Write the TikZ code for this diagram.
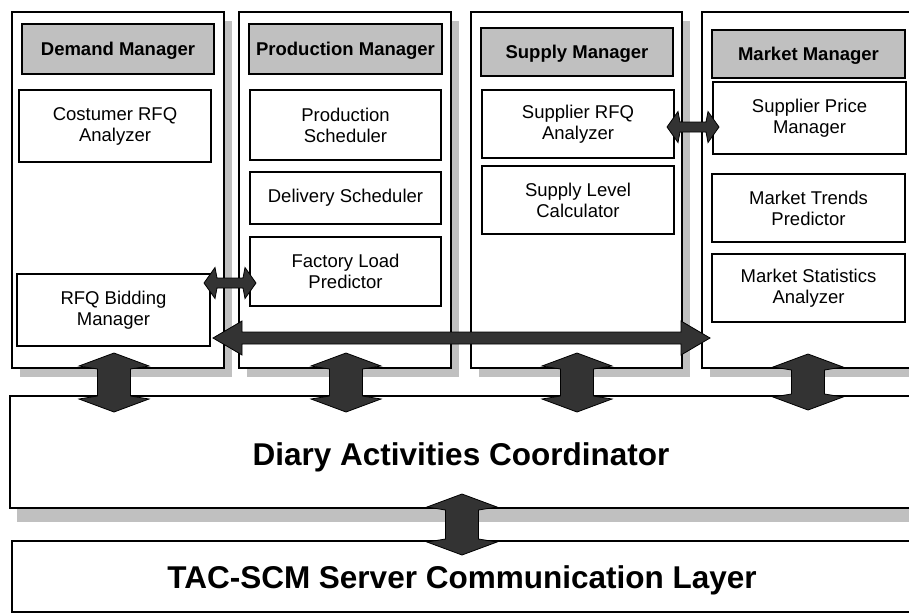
\documentclass[tikz,border=0pt]{standalone}
\usepackage{fontspec}
\setmainfont{Liberation Sans}
\usetikzlibrary{shadows}
\definecolor{sgray}{RGB}{192,192,192}
\definecolor{afill}{RGB}{51,51,51}
\begin{document}
\begin{tikzpicture}[x=1pt,y=-1pt,
  colbox/.style={draw=black, line width=1.1pt, fill=white, inner sep=0pt, outer sep=0pt, anchor=north west,
    drop shadow={shadow xshift=8pt, shadow yshift=-9pt, fill=sgray, opacity=1}},
  bigbox/.style={draw=black, line width=1.1pt, fill=white, inner sep=0pt, outer sep=0pt, anchor=north west},
  headbox/.style={draw=black, line width=1.4pt, fill=sgray, inner sep=0pt, outer sep=0pt, anchor=north west,
    text height=13.2pt, text depth=0pt, font=\fontsize{18.5}{21}\selectfont\bfseries},
  inbox/.style={draw=black, line width=1.3pt, fill=white, inner sep=0pt, outer sep=0pt, anchor=north west,
    align=center, font=\fontsize{18.5}{21}\selectfont},
  biglbl/.style={anchor=base, inner sep=0pt, font=\fontsize{31.5}{36}\selectfont\bfseries},
  arrowst/.style={fill=afill, draw=black, line width=0.8pt, line join=miter},
  pics/vdarr/.style={code={
    \filldraw[arrowst] (0,0) -- (35,13) -- (16.5,16) -- (16.5,#1-16) -- (35,#1-13) -- (0,#1)
      -- (-35,#1-13) -- (-16.5,#1-16) -- (-16.5,16) -- (-35,13) -- cycle;}},
  pics/hdarr/.style={code={
    \filldraw[arrowst] (0,0) -- (11,-15.5) -- (13,-5) -- (#1-13,-5) -- (#1-11,-15.5) -- (#1,0)
      -- (#1-11,15.5) -- (#1-13,5) -- (13,5) -- (11,15.5) -- cycle;}},
  pics/bigarr/.style={code={
    \filldraw[arrowst] (0,0) -- (29,-17) -- (29,-6) -- (#1-29,-6) -- (#1-29,-17) -- (#1,0)
      -- (#1-29,17) -- (#1-29,6) -- (29,6) -- (29,17) -- cycle;}}
]
\useasboundingbox (0,0) rectangle (909,614);
\fill[white] (0,0) rectangle (909,614);
\clip (0,0) rectangle (909,614);

% columns
\node[colbox, minimum width=212, minimum height=356] (col1) at (12,12) {};
\node[colbox, minimum width=212, minimum height=356] (col2) at (239,12) {};
\node[colbox, minimum width=211, minimum height=356] (col3) at (471,12) {};
\node[colbox, minimum width=213, minimum height=356] (col4) at (702,12) {};

% headers
\node[headbox, minimum width=192, minimum height=50] (hd1) at (22,24) {Demand Manager};
\node[headbox, minimum width=193, minimum height=50] (hd2) at (249,24) {Production Manager};
\node[headbox, minimum width=192, minimum height=48] (hd3) at (481,28) {Supply Manager};
\node[headbox, minimum width=193, minimum height=48] (hd4) at (712,30) {Market Manager};

% inner boxes
\node[inbox, minimum width=192, minimum height=72] (cra) at (19,90) {Costumer RFQ\\Analyzer};
\node[inbox, minimum width=193, minimum height=72] (rbm) at (17,274) {RFQ Bidding\\Manager};
\node[inbox, minimum width=191, minimum height=70] (ps) at (250,90) {Production\\Scheduler};
\node[inbox, minimum width=191, minimum height=52] (ds) at (250,172) {Delivery Scheduler};
\node[inbox, minimum width=191, minimum height=69] (flp) at (250,237) {Factory Load\\Predictor};
\node[inbox, minimum width=192, minimum height=68] (sra) at (482,90) {Supplier RFQ\\Analyzer};
\node[inbox, minimum width=192, minimum height=68] (slc) at (482,166) {Supply Level\\Calculator};
\node[inbox, minimum width=193, minimum height=72] (spm) at (713,82) {Supplier Price\\Manager};
\node[inbox, minimum width=193, minimum height=68] (mtp) at (712,174) {Market Trends\\Predictor};
\node[inbox, minimum width=193, minimum height=68] (msa) at (712,254) {Market Statistics\\Analyzer};

% diary and TAC
\fill[sgray] (17,410) rectangle (930,522);
\node[bigbox, minimum width=910, minimum height=112] (dac) at (10,396) {};
\node[biglbl] (dacl) at (461,465) {Diary Activities Coordinator};
\node[bigbox, minimum width=910, minimum height=71] (tac) at (12,541) {};
\node[biglbl] (tacl) at (462,588) {TAC-SCM Server Communication Layer};

% arrows
\pic at (204,283) {hdarr=52};
\pic at (667,127) {hdarr=52};
\pic at (213,338) {bigarr=497};
\pic at (114,353) {vdarr=59};
\pic at (346,353) {vdarr=59};
\pic at (577,353) {vdarr=59};
\pic at (808,354) {vdarr=56};
\pic at (462,494) {vdarr=61};
\end{tikzpicture}
\end{document}
